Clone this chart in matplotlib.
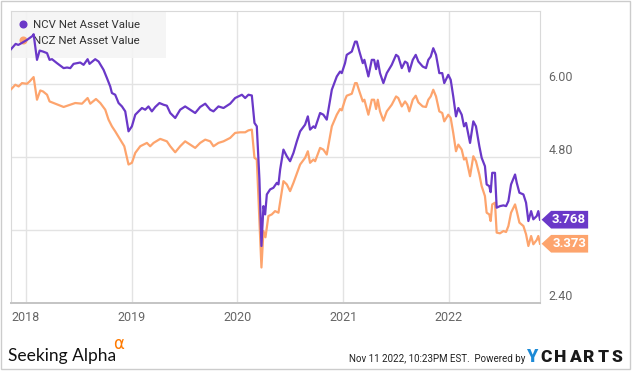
import numpy as np
import matplotlib.pyplot as plt
from matplotlib.lines import Line2D
from matplotlib.patches import Polygon, Rectangle

# NAV per share, x as decimal year
ncv_year = [2017.858, 2017.902, 2017.927, 2017.956, 2018.009, 2018.062, 2018.072, 2018.104, 2018.129, 2018.161,
            2018.199, 2018.223, 2018.246, 2018.293, 2018.356, 2018.388, 2018.419, 2018.450, 2018.513, 2018.545,
            2018.583, 2018.601, 2018.655, 2018.687, 2018.734, 2018.766, 2018.797, 2018.813, 2018.844, 2018.876,
            2018.908, 2018.939, 2018.970, 2019.002, 2019.034, 2019.065, 2019.097, 2019.128, 2019.159, 2019.191,
            2019.223, 2019.263, 2019.301, 2019.333, 2019.365, 2019.412, 2019.459, 2019.506, 2019.554, 2019.601,
            2019.648, 2019.696, 2019.743, 2019.774, 2019.821, 2019.869, 2019.932, 2019.979, 2020.010, 2020.043,
            2020.074, 2020.105, 2020.137, 2020.162, 2020.184, 2020.209, 2020.228, 2020.247, 2020.263, 2020.279,
            2020.310, 2020.341, 2020.374, 2020.389, 2020.405, 2020.436, 2020.468, 2020.499, 2020.531, 2020.563,
            2020.594, 2020.641, 2020.667, 2020.688, 2020.720, 2020.736, 2020.783, 2020.814, 2020.846, 2020.894,
            2020.941, 2020.972, 2020.988, 2021.019, 2021.035, 2021.083, 2021.114, 2021.130, 2021.155, 2021.187,
            2021.202, 2021.240, 2021.272, 2021.294, 2021.313, 2021.329, 2021.350, 2021.382, 2021.414, 2021.461,
            2021.502, 2021.523, 2021.556, 2021.587, 2021.609, 2021.627, 2021.660, 2021.688, 2021.713, 2021.754,
            2021.785, 2021.807, 2021.830, 2021.854, 2021.880, 2021.911, 2021.939, 2021.958, 2021.996, 2022.019,
            2022.043, 2022.069, 2022.091, 2022.123, 2022.145, 2022.164, 2022.202, 2022.233, 2022.258, 2022.290,
            2022.312, 2022.343, 2022.359, 2022.384, 2022.397, 2022.412, 2022.438, 2022.454, 2022.485, 2022.518,
            2022.543, 2022.565, 2022.590, 2022.628, 2022.644, 2022.669, 2022.707, 2022.732, 2022.754, 2022.780,
            2022.801, 2022.833, 2022.848, 2022.864]
ncv_nav = [6.568, 6.655, 6.638, 6.666, 6.720, 6.786, 6.814, 6.393, 6.545, 6.529,
           6.503, 6.393, 6.404, 6.339, 6.257, 6.267, 6.257, 6.327, 6.349, 6.311,
           6.404, 6.327, 6.404, 6.365, 6.229, 6.093, 5.956, 5.848, 5.820, 5.684,
           5.628, 5.547, 5.219, 5.301, 5.492, 5.547, 5.602, 5.574, 5.628, 5.547,
           5.619, 5.684, 5.656, 5.640, 5.520, 5.438, 5.574, 5.628, 5.574, 5.520,
           5.619, 5.673, 5.574, 5.547, 5.628, 5.602, 5.673, 5.766, 5.792, 5.820,
           5.766, 5.820, 5.808, 5.357, 5.301, 4.428, 3.336, 3.991, 3.855, 4.183,
           4.265, 4.292, 4.374, 4.347, 4.592, 4.919, 4.810, 4.728, 4.865, 5.055,
           5.219, 5.329, 5.465, 5.247, 5.301, 5.275, 5.520, 5.492, 5.411, 5.902,
           6.120, 6.201, 6.175, 6.339, 6.475, 6.529, 6.692, 6.692, 6.529, 6.339,
           6.393, 6.120, 6.393, 6.393, 6.241, 6.381, 6.175, 6.011, 6.175, 6.311,
           6.475, 6.447, 6.257, 6.365, 6.339, 6.201, 6.393, 6.475, 6.365, 6.283,
           6.257, 6.393, 6.447, 6.584, 6.475, 6.175, 6.175, 6.011, 6.147, 6.065,
           5.792, 5.465, 5.602, 5.492, 5.301, 5.357, 5.029, 5.383, 5.301, 4.974,
           4.784, 4.646, 4.347, 4.319, 4.220, 4.538, 4.538, 3.965, 3.991, 4.003,
           3.991, 4.073, 4.347, 4.510, 4.374, 4.211, 4.183, 4.047, 3.746, 3.909,
           3.774, 3.828, 3.909, 3.768]

ncz_year = [2017.861, 2017.899, 2017.930, 2017.962, 2018.009, 2018.034, 2018.072, 2018.104, 2018.135, 2018.161,
            2018.199, 2018.223, 2018.261, 2018.356, 2018.419, 2018.466, 2018.530, 2018.583, 2018.608, 2018.662,
            2018.703, 2018.750, 2018.781, 2018.813, 2018.844, 2018.892, 2018.930, 2018.970, 2019.002, 2019.034,
            2019.081, 2019.112, 2019.144, 2019.175, 2019.207, 2019.270, 2019.333, 2019.365, 2019.412, 2019.459,
            2019.506, 2019.554, 2019.601, 2019.648, 2019.696, 2019.743, 2019.774, 2019.821, 2019.869, 2019.932,
            2019.979, 2020.026, 2020.074, 2020.105, 2020.137, 2020.162, 2020.184, 2020.206, 2020.228, 2020.247,
            2020.266, 2020.294, 2020.326, 2020.357, 2020.389, 2020.436, 2020.468, 2020.499, 2020.531, 2020.594,
            2020.641, 2020.667, 2020.688, 2020.720, 2020.736, 2020.783, 2020.814, 2020.846, 2020.894, 2020.941,
            2020.972, 2020.988, 2021.019, 2021.035, 2021.083, 2021.114, 2021.130, 2021.155, 2021.187, 2021.202,
            2021.240, 2021.272, 2021.294, 2021.313, 2021.329, 2021.350, 2021.382, 2021.414, 2021.461, 2021.502,
            2021.523, 2021.556, 2021.587, 2021.609, 2021.627, 2021.660, 2021.688, 2021.713, 2021.754, 2021.785,
            2021.807, 2021.830, 2021.854, 2021.880, 2021.911, 2021.939, 2021.958, 2021.996, 2022.019, 2022.043,
            2022.069, 2022.091, 2022.123, 2022.145, 2022.164, 2022.202, 2022.233, 2022.258, 2022.290, 2022.312,
            2022.343, 2022.359, 2022.384, 2022.397, 2022.412, 2022.438, 2022.454, 2022.485, 2022.518, 2022.543,
            2022.565, 2022.590, 2022.628, 2022.644, 2022.669, 2022.707, 2022.732, 2022.754, 2022.780, 2022.801,
            2022.833, 2022.848, 2022.864]
ncz_nav = [5.913, 5.984, 5.956, 6.011, 6.000, 6.038, 6.110, 5.738, 5.890, 5.874,
           5.820, 5.710, 5.684, 5.619, 5.656, 5.684, 5.673, 5.766, 5.673, 5.750,
           5.684, 5.574, 5.411, 5.301, 5.219, 5.083, 4.974, 4.674, 4.702, 4.865,
           4.974, 5.001, 5.029, 4.974, 5.029, 5.095, 5.055, 4.974, 4.875, 4.974,
           5.055, 5.001, 4.947, 5.029, 5.083, 5.055, 4.974, 5.029, 5.055, 5.111,
           5.193, 5.203, 5.203, 5.235, 5.247, 4.784, 4.756, 3.883, 2.983, 3.582,
           3.479, 3.828, 3.855, 3.909, 3.883, 4.401, 4.347, 4.237, 4.374, 4.674,
           4.784, 4.892, 4.702, 4.756, 4.728, 4.947, 4.919, 4.838, 5.301, 5.492,
           5.586, 5.563, 5.738, 5.804, 5.836, 6.011, 6.011, 5.874, 5.710, 5.738,
           5.492, 5.738, 5.738, 5.586, 5.738, 5.547, 5.394, 5.547, 5.656, 5.792,
           5.766, 5.628, 5.710, 5.656, 5.547, 5.738, 5.804, 5.694, 5.628, 5.619,
           5.738, 5.792, 5.902, 5.792, 5.547, 5.520, 5.383, 5.492, 5.438, 5.193,
           4.892, 5.001, 4.919, 4.756, 4.784, 4.482, 4.810, 4.728, 4.510, 4.319,
           4.155, 3.883, 3.855, 3.746, 4.019, 4.047, 3.556, 3.544, 3.582, 3.566,
           3.664, 3.883, 4.019, 3.909, 3.720, 3.664, 3.528, 3.336, 3.500, 3.364,
           3.435, 3.500, 3.373]

series_names = ["NCV Net Asset Value", "NCZ Net Asset Value"]
year_ticks = [2018, 2019, 2020, 2021, 2022]
nav_ticks = [2.40, 3.60, 4.80, 6.00]
nav_tick_labels = ["2.40", "", "4.80", "6.00"]

purple = "#6a38c8"
orange = "#fda46d"

plt.rcParams["font.family"] = ["Roboto", "DejaVu Sans"]

fig = plt.figure(figsize=(6.35, 3.71), dpi=100)
ax = fig.add_axes([11 / 635, 1 - 303 / 371, 529 / 635, 292.3 / 371])

ax.plot(ncz_year, ncz_nav, color=orange, linewidth=1.6, zorder=3)
ax.plot(ncv_year, ncv_nav, color=purple, linewidth=1.6, zorder=4)

ax.set_xlim(2017.858, 2022.864)
ax.set_ylim(2.40, 7.20)
ax.set_xticks(year_ticks)
ax.set_xticklabels([str(y) for y in year_ticks])
ax.set_yticks(nav_ticks)
ax.set_yticklabels(nav_tick_labels)
ax.yaxis.tick_right()
ax.tick_params(axis="both", length=0, labelsize=9, labelcolor="#666666")
ax.tick_params(axis="x", pad=6)
ax.tick_params(axis="y", pad=6)
for lab in ax.get_yticklabels():
    lab.set_va("bottom")
ax.grid(color="#e3e3e3", linewidth=1.0, zorder=0)
ax.set_axisbelow(True)
for side in ["top", "right", "left"]:
    ax.spines[side].set_color("#d9d9d9")
    ax.spines[side].set_linewidth(0.8)
ax.spines["bottom"].set_color("#c4c4c4")
ax.spines["bottom"].set_linewidth(1.4)

# legend with a light grey panel behind it
ax.add_patch(Rectangle((0, 0.839), 0.293, 0.161, transform=ax.transAxes,
                       facecolor="#f4f4f4", edgecolor="none", alpha=0.9, zorder=2))
handles = [Line2D([], [], linestyle="none", marker="o", markersize=4.8, color=c) for c in (purple, orange)]
leg = ax.legend(handles, series_names, loc="upper left", bbox_to_anchor=(-0.005, 1.0), frameon=False,
                fontsize=8.2, handlelength=0.9, handletextpad=0.45, labelspacing=0.5, borderpad=0.3,
                labelcolor="#333333")
leg.set_zorder(2.5)

# last value tags on the right
for val, col in [(ncv_nav[-1], purple), (ncz_nav[-1], orange)]:
    tr = ax.get_yaxis_transform()
    h = 0.145
    tag = Polygon([(1.003, val), (1.021, val + h), (1.091, val + h), (1.091, val - h), (1.021, val - h)],
                  closed=True, transform=tr, facecolor=col, edgecolor="none", clip_on=False, zorder=5)
    ax.add_patch(tag)
    ax.text(1.055, val, f"{val:.3f}", transform=tr, ha="center", va="center", color="white",
            fontsize=9.5, fontweight="bold", zorder=6, clip_on=False)

# footer
fig.text(8 / 635, 1 - 361.5 / 371, "Seeking Alpha", fontsize=12.5, family=["Lato", "DejaVu Sans"],
         color="#111111", ha="left", va="baseline")
fig.text(113.5 / 635, 1 - 349 / 371, "α", fontsize=12, color="#ff7a00", ha="left", va="baseline",
         family=["DejaVu Sans"])
fig.text(525 / 635, 1 - 361.5 / 371, "Nov 11 2022, 10:23PM EST.  Powered by", fontsize=7.0,
         color="#222222", ha="right", va="baseline")
fig.text(527 / 635, 1 - 361.5 / 371, "Y", fontsize=13, fontweight="black", color="#1c8ad6",
         ha="left", va="baseline")
for i, ch in enumerate("CHARTS"):
    fig.text((540 + i * 14.3) / 635, 1 - 361.5 / 371, ch, fontsize=12.5, fontweight="black",
             color="#1a1a1a", ha="left", va="baseline")

fig.patches.append(Rectangle((1 / 635, 1 - 369 / 371), 629 / 635, 368 / 371, transform=fig.transFigure,
                             facecolor="none", edgecolor="#cccccc", linewidth=1.0))

plt.savefig("out.png", dpi=100)
